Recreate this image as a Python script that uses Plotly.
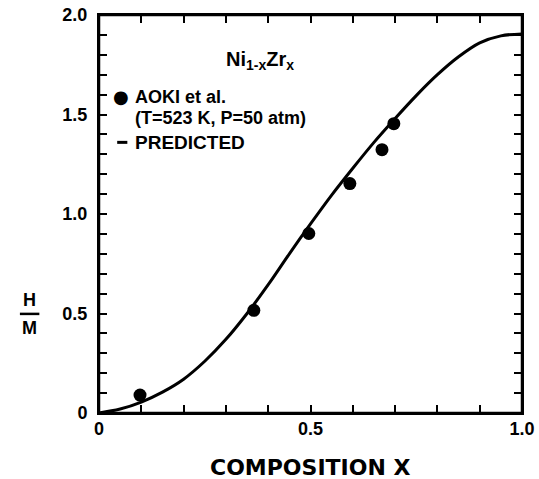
import plotly.graph_objects as go

# Experimental data (AOKI et al.)
aoki_x = [0.097, 0.366, 0.496, 0.593, 0.669, 0.697]
aoki_y = [0.09, 0.516, 0.902, 1.153, 1.323, 1.454]

# Predicted curve
pred_x = [0.0, 0.05, 0.10, 0.15, 0.20, 0.25, 0.30, 0.35, 0.40, 0.45, 0.50,
          0.55, 0.60, 0.65, 0.70, 0.75, 0.80, 0.85, 0.90, 0.95, 1.00]
pred_y = [0.0, 0.02, 0.055, 0.105, 0.17, 0.26, 0.37, 0.50, 0.645, 0.80, 0.95,
          1.095, 1.23, 1.36, 1.48, 1.595, 1.70, 1.79, 1.86, 1.895, 1.905]

x_tickvals = [0.0, 0.5, 1.0]
x_ticktext = ["0", "0.5", "1.0"]
y_tickvals = [0.0, 0.5, 1.0, 1.5, 2.0]
y_ticktext = ["0", "0.5", "1.0", "1.5", "2.0"]

FONT = "Liberation Sans"

fig = go.Figure()
fig.add_trace(go.Scatter(x=pred_x, y=pred_y, mode="lines",
                         line=dict(color="black", width=3, shape="spline", smoothing=1.0),
                         showlegend=False, hoverinfo="skip"))
fig.add_trace(go.Scatter(x=aoki_x, y=aoki_y, mode="markers",
                         marker=dict(color="black", size=13), showlegend=False))

axis_common = dict(showline=True, linecolor="black", linewidth=2, mirror="allticks",
                   ticks="inside", ticklen=8, tickwidth=2, tickcolor="#000000",
                   showgrid=False, zeroline=False, automargin=False,
                   ticklabeloverflow="allow", layer="above traces",
                   minor=dict(dtick=0.1, ticks="inside", ticklen=8, tickwidth=2,
                              tickcolor="#000000", showgrid=False),
                   tickfont=dict(family=FONT, size=18, color="black", weight="bold"))

fig.update_xaxes(range=[0, 1], tickmode="array", tickvals=x_tickvals, ticktext=x_ticktext,
                 ticklabelstandoff=-2, **axis_common)
fig.update_yaxes(range=[0, 2.0], tickmode="array", tickvals=y_tickvals, ticktext=y_ticktext,
                 ticklabelstandoff=6, **axis_common)

# explicit frame around plot area
fig.add_shape(type="rect", xref="paper", yref="paper", x0=0, x1=1, y0=0, y1=1,
              line=dict(color="black", width=2.5), layer="above")

ann_font = dict(family=FONT, size=18, color="black", weight="bold")
fig.add_annotation(xref="paper", yref="paper", x=0.295, y=0.885, xanchor="left", yanchor="middle",
                   text="Ni<sub>1-x</sub>Zr<sub>x</sub>", showarrow=False,
                   font=dict(family=FONT, size=20, color="black", weight="bold"))
fig.add_annotation(xref="paper", yref="paper", x=0.052, y=0.795, xanchor="center", yanchor="middle",
                   text="●", showarrow=False, font=dict(family="DejaVu Sans", size=18, color="black"))
fig.add_annotation(xref="paper", yref="paper", x=0.08, y=0.795, xanchor="left", yanchor="middle",
                   text="AOKI et al.", showarrow=False, font=ann_font)
fig.add_annotation(xref="paper", yref="paper", x=0.08, y=0.74, xanchor="left", yanchor="middle",
                   text="(T=523 K, P=50 atm)", showarrow=False, font=ann_font)
fig.add_annotation(xref="paper", yref="paper", x=0.08, y=0.68, xanchor="left", yanchor="middle",
                   text="PREDICTED", showarrow=False,
                   font=dict(family=FONT, size=19, color="black", weight="bold"))
fig.add_shape(type="line", xref="paper", yref="paper", x0=0.043, x1=0.067, y0=0.68, y1=0.68,
              line=dict(color="black", width=3))

# X-axis title
fig.add_annotation(xref="paper", yref="paper", x=0.5, y=-0.136, xanchor="center", yanchor="middle",
                   text="COMPOSITION X", showarrow=False,
                   font=dict(family="DejaVu Sans", size=22, color="black", weight="bold"))

# Y-axis label as fraction H/M
fig.add_annotation(xref="paper", yref="paper", x=-0.164, y=0.285, xanchor="center", yanchor="middle",
                   text="H", showarrow=False, font=ann_font)
fig.add_annotation(xref="paper", yref="paper", x=-0.164, y=0.213, xanchor="center", yanchor="middle",
                   text="M", showarrow=False, font=ann_font)
fig.add_shape(type="line", xref="paper", yref="paper", x0=-0.187, x1=-0.141, y0=0.249, y1=0.249,
              line=dict(color="black", width=2.5))

fig.update_layout(width=539, height=479, margin=dict(l=99, r=17, t=15, b=66),
                  paper_bgcolor="white", plot_bgcolor="white", showlegend=False)

fig.write_html("out.html", config={"displayModeBar": False},
               post_script="document.body.style.margin='0';document.body.style.overflow='hidden';")
